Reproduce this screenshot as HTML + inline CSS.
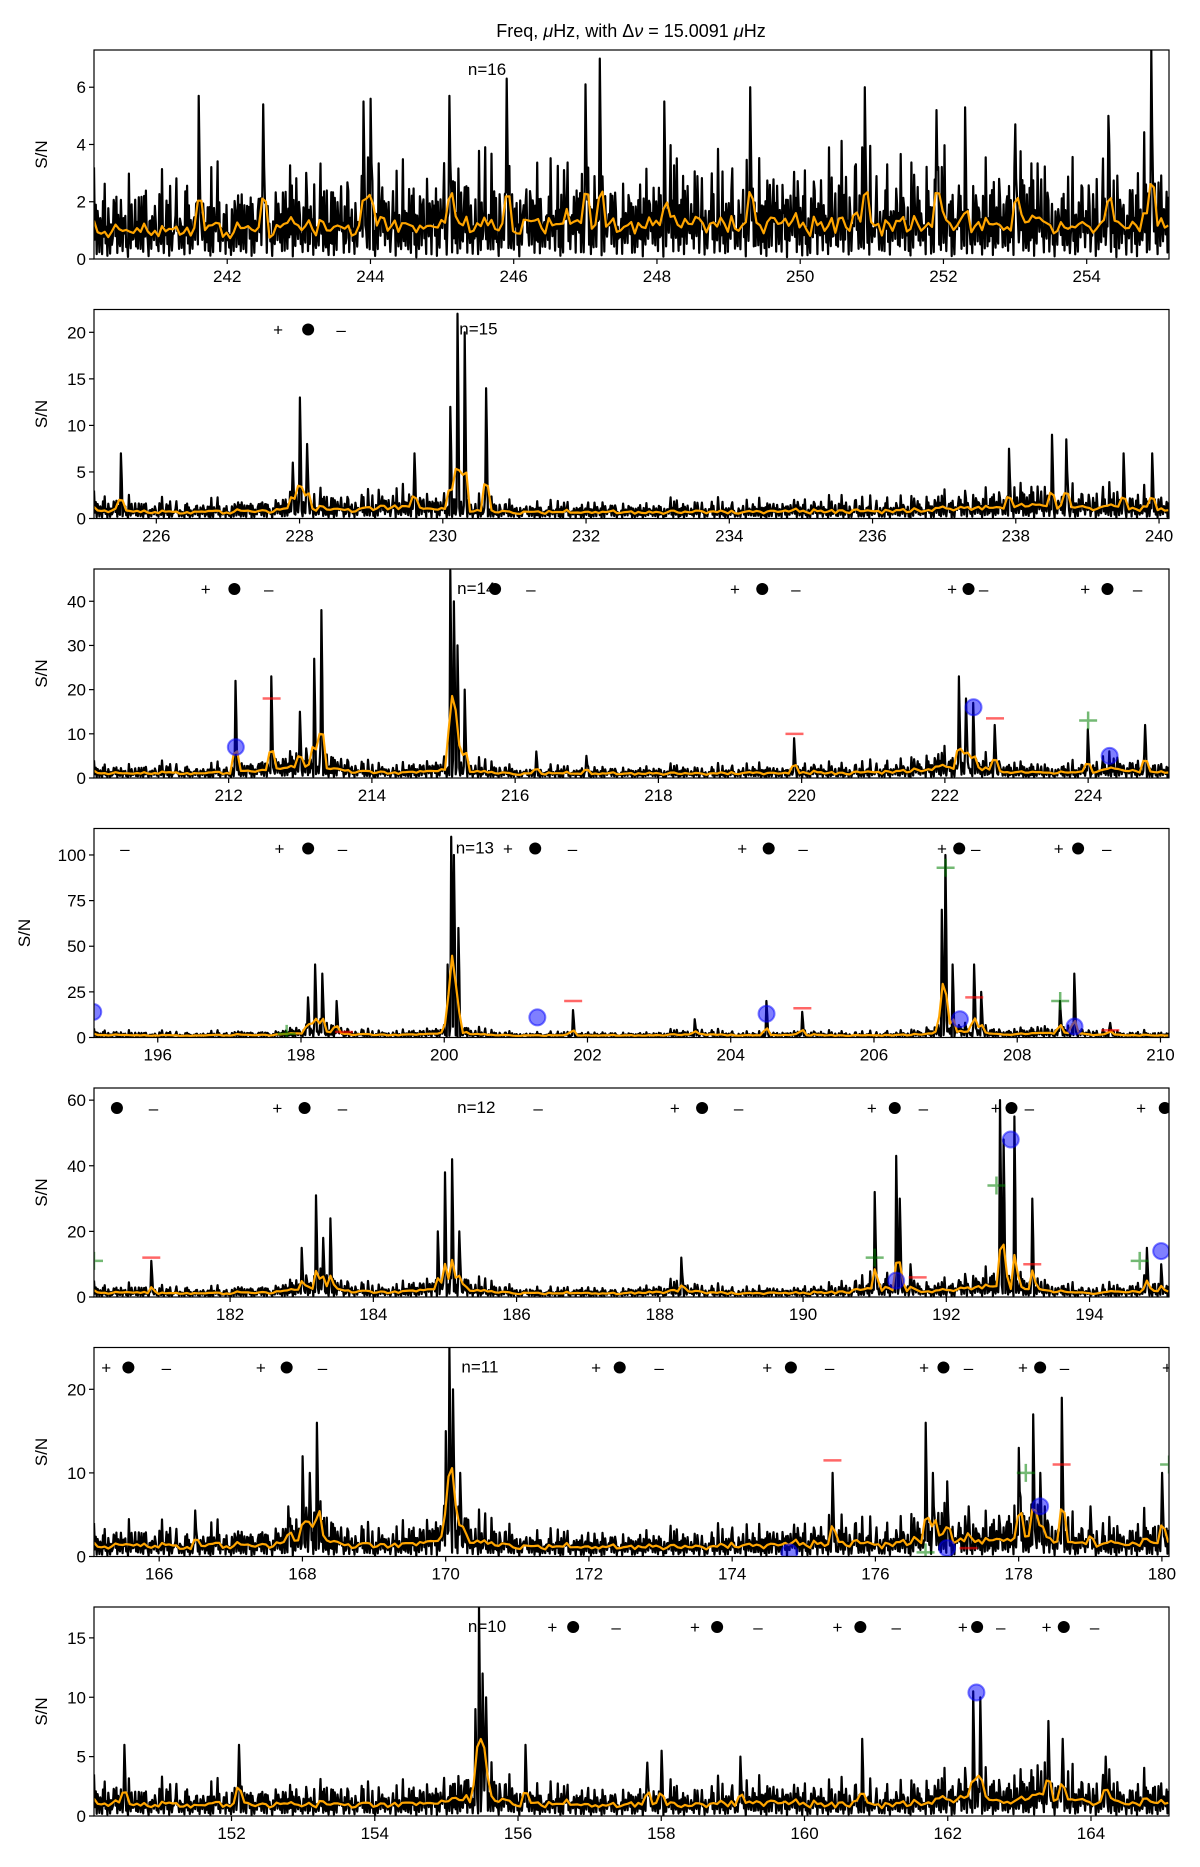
<!DOCTYPE html>
<html><head><meta charset="utf-8"><style>
html,body{margin:0;padding:0;background:#fff}
svg{display:block}
text{font-family:"Liberation Sans","DejaVu Sans",sans-serif;fill:#000}
</style></head><body>
<svg id="chart" width="1200" height="1867" viewBox="0 0 1200 1867" xmlns="http://www.w3.org/2000/svg">
<text x="631" y="37" font-size="18" text-anchor="middle">Freq, <tspan font-style="italic">μ</tspan>Hz, with Δ<tspan font-style="italic">ν</tspan> = 15.0091 <tspan font-style="italic">μ</tspan>Hz</text>
</svg>
<script>
// ---- data ----
const panelLows = [240.14, 225.13, 210.12, 195.11, 180.10, 165.09, 150.08];
const panelYMax = [7.3, 22.45, 47.3, 114.5, 63.7, 25.0, 17.6];
const panelOrders = ["n=16","n=15","n=14","n=13","n=12","n=11","n=10"];
const orderLabelF = [245.36, 230.23, 215.19, 200.16, 185.17, 170.22, 155.30];
const xTicks = [[242,244,246,248,250,252,254],[226,228,230,232,234,236,238,240],[212,214,216,218,220,222,224],[196,198,200,202,204,206,208,210],[182,184,186,188,190,192,194],[166,168,170,172,174,176,178,180],[152,154,156,158,160,162,164]];
const yTicks = [[0,2,4,6],[0,5,10,15,20],[0,10,20,30,40],[0,25,50,75,100],[0,20,40,60],[0,10,20],[0,5,10,15]];
const envelope = [
[3.2,3.6,3.3,3.8,3.4,4.0,3.7,3.8,3.3,4.2,3.8,4.3,3.9,3.6,4.4,4.0,4.5,4.2,3.8,4.3,4.6,4.0,4.4,3.9,4.7,4.3,4.5,4.9,4.2,4.4,4.0,4.5,4.3,4.9,4.6,4.2,4.5,4.0,4.8,4.4,3.9,4.3,5.0,4.5,4.2,4.6,4.3,4.9,4.4,4.0,4.5,4.2,4.8,4.3,3.8,4.4,4.6,4.0,4.3,4.5,4.2],
[3,3.2,2.8,2.5,2.6,2.4,2.7,2.5,2.6,3.0,3.2,3.8,4.0,3.5,3.8,3.5,4.2,4.5,4.0,3.8,3.5,3.2,2.8,2.6,2.5,2.4,2.6,2.3,2.5,2.7,2.4,2.3,2.5,2.6,2.8,2.5,2.4,2.6,2.7,2.9,2.6,2.8,3.0,2.7,2.9,3.1,3.2,3.5,3.8,4.0,4.2,4.5,4.8,4.5,4.2,4.6,4.4,4.0,3.8,3.5,3.2],
[4,4,3.5,4,4.5,4,3.8,4.2,5,6,7,8,9,8,7,5,4.5,4,5,6,7,6,4.5,4,3.5,3.8,4,3.5,3.6,4,3.5,3.8,3.6,4,3.5,3.8,4,4.2,3.8,4,4.5,4.2,4,4.5,5,5.5,6.5,8,9,8.5,7,5,4.5,4,4.5,5,6,6.5,6,5,4.5],
[5,5,4.5,4,4.5,4,4,4.5,5,5,5.5,7,10,12,8,6,5,5,6,8,10,8,5,4.5,4,4,4.5,4,4,4.5,4,4,5,6,7,5,4.5,4,4.5,5,5,4.5,4,4,4.5,5,6,10,12,10,8,6,7,8,10,8,6,5,4.5,4,4],
[5,4.5,5,4.5,4,4.5,4,4,4.5,5,5.5,7,9,10,8,6,5,5.5,7,9,11,8,6,5,4.5,4,4,4.5,4,4,4.5,5,6,7,5.5,4.5,4,4,4.5,4,4.5,5,6,8,10,9,7,6,8,10,12,11,9,7,6,5,4.5,5,6,7,6],
[4,4.5,5,4.5,5,4,4.5,5,4.5,5,5.5,6,8,7,5.5,5,4.5,5,5.5,7,9,7,5.5,5,4.5,4,4.5,4,4,4.5,4,4.5,4,4.5,4,4.5,5,4.5,5,5.5,5,5.5,6,5.5,5,6,7,8,7,6,7,8,9,8,7,6,5,5,5.5,6,6],
[3.5,4,3.5,3.2,3.8,3.5,3.2,3.6,4,3.5,3.8,3.4,3.2,3.6,3.8,3.5,3.2,3.6,3.8,4,4.5,5,5.5,4.5,4,3.5,3.8,3.5,3.2,3.4,3.6,3.8,3.5,3.2,3.6,3.8,3.5,4,4.2,3.8,3.5,3.4,4,3.6,3.4,3.8,4,4.5,5,5.5,5,4.5,5,6,5.5,5,4.5,4,3.8,4.2,4]
];
const peakFreqs = [
[241.6,242.5,243.9,244.0,245.1,245.9,247.0,247.2,248.1,249.3,250.9,252.3,254.9,254.3,251.9,253.0],
[225.5,228.0,228.1,230.2,230.3,230.6,230.1,229.6,237.9,238.5,238.7,239.5,239.9,227.9],
[212.1,212.6,213.0,213.3,213.2,215.1,215.15,215.2,215.3,219.9,222.2,222.3,222.4,222.7,224.0,224.8,216.3,217.0],
[198.2,198.3,198.1,198.5,200.1,200.13,200.2,200.05,207.0,206.95,207.1,207.4,207.5,208.6,208.8,203.5,204.5,201.8,205.0,209.3],
[180.9,183.0,183.2,183.4,183.3,185.1,185.0,185.2,184.9,188.3,191.0,191.3,191.35,191.5,192.75,192.8,192.95,193.2,194.8,195.0],
[168.0,168.2,168.1,170.05,170.1,170.0,170.2,175.4,176.7,176.8,177.0,177.3,178.0,178.2,178.3,178.6,179.0,180.0,167.8,166.5],
[155.45,155.5,155.55,155.4,162.35,162.45,163.4,163.6,160.8,159.1,164.2,152.1,150.5,157.8,156.1,158.0]
];
const peakHeights = [
[5.7,5.4,5.5,5.6,5.7,6.3,6.1,7.0,5.5,6.0,6.0,5.3,7.3,5.0,5.2,4.7],
[7,13,8,22,20,14,12,7,7.5,9,8.5,7,7,6],
[22,23,15,38,27,47,40,30,20,9,23,18,17,12,11,12,6,5],
[40,35,22,20,110,100,60,40,100,70,40,40,25,20,35,10,20,15,14,8],
[11,15,31,24,18,42,38,20,20,12,32,43,30,10,60,48,55,30,15,10],
[12,16,10,25,20,15,10,10,16,10,9,6,13,17,10,19,6,10,6,5.5],
[17.6,12,10,9,10.5,10,8,6.5,6.5,5,5,6,6,4.5,6,5.5]
];
const plusF = [[],[227.70],[211.68,219.07,222.10,223.96],[197.70,200.89,204.16,206.95,208.58],[182.66,188.21,190.96,192.69,194.72],[165.26,167.42,172.10,174.49,176.68,178.06,180.07],[156.48,158.47,160.46,162.21,163.38]];
const dotF = [[],[228.12],[212.08,215.72,219.45,222.33,224.27],[198.10,201.27,204.53,207.19,208.85],[180.42,183.04,188.59,191.28,192.91,195.05],[165.57,167.78,172.43,174.82,176.95,178.30],[156.77,158.78,160.78,162.41,163.62]];
const minusF = [[],[228.58],[212.56,216.22,219.92,222.54,224.69],[195.54,198.58,201.79,205.01,207.42,209.25],[180.93,183.57,186.30,189.10,191.68,193.16],[166.10,168.28,172.98,175.36,177.30,178.64],[157.37,159.35,161.28,162.74,164.05]];
const blueF = [[],[],[212.1,222.4,224.3],[195.1,201.3,204.5,207.2,208.8],[191.3,192.9,195.0],[174.8,177.0,178.3],[162.4]];
const blueV = [[],[],[7,16,5],[14,11,13,10,6],[5,48,14],[0.5,1,6],[10.4]];
const redF = [[],[],[212.6,219.9,222.7],[201.8,205.0,207.4,209.3,198.6],[180.9,191.6,193.2],[175.4,177.3,178.6],[]];
const redV = [[],[],[18,10,13.5],[20,16,22,4,3],[12,6,10],[11.5,1,11],[]];
const greenF = [[],[],[224.0],[207.0,208.6,197.8],[180.1,191.0,192.7,194.7],[176.7,178.1,180.1],[]];
const greenV = [[],[],[13],[93,20,2],[11,12,34,11],[0.5,10,11],[]];
// texture pattern for spectrum fine structure
const texA = [1,0.3,0.65,0.12,0.8,0.45,0.2,0.95,0.55,0.1,0.7,0.35,0.85,0.25,0.6,0.05,0.9,0.4,0.15,0.75,0.5,0.3,0.68];
const texB = [1,0.7,0.9,0.55,0.8,1,0.6,0.75,0.95,0.5,0.85,0.65,1,0.7,0.6,0.9,0.8];
const texC = [1,0.8,0.6,1,0.9,0.7,0.5,0.85,1,0.65,0.9,0.75,0.55,1,0.8,0.6,0.95,0.7,0.85,1,0.6,0.9,0.75,0.5,0.8,1,0.7];

// ---- layout ----
const NS = "http://www.w3.org/2000/svg";
const svg = document.getElementById('chart');
const L = 94, W = 1075, H = 209, TOP0 = 50, GAP = 259.5, DNU = 15.0091, STEP = 0.0125;
function mk(tag, attrs, parent){const e=document.createElementNS(NS,tag);for(const k in attrs)e.setAttribute(k,attrs[k]);(parent||svg).appendChild(e);return e;}

for (let p = 0; p < 7; p++) {
  const top = TOP0 + GAP * p, lo = panelLows[p], ymax = panelYMax[p];
  const xs = f => L + (f - lo) / DNU * W;
  const ys = v => top + H - v / ymax * H;
  const g = mk('g', {});
  
  
  const cp = mk('clipPath', {id: 'clip' + p}, g);
  mk('rect', {x: L, y: top, width: W, height: H}, cp);

  const N = Math.round(DNU / STEP);
  const env = envelope[p];
  const vals = [];
  for (let i = 0; i <= N; i++) {
    const f = i * STEP, k = f / 0.25, k0 = Math.min(Math.floor(k), env.length - 2), t = k - k0;
    const e = env[k0] * (1 - t) + env[k0 + 1] * t;
    vals.push(e * texA[i % texA.length] * texB[i % texB.length] * texC[Math.floor(i / 3) % texC.length]);
  }
  peakFreqs[p].forEach((f, j) => {
    const i = Math.round((f - lo) / STEP);
    if (i >= 0 && i <= N) {
      vals[i] = Math.max(vals[i], peakHeights[p][j]);
      if (i + 1 <= N) vals[i + 1] = Math.max(vals[i + 1], peakHeights[p][j] * 0.6);
    }
  });
  let d = '';
  vals.forEach((v, i) => { d += (i ? 'L' : 'M') + xs(lo + i * STEP).toFixed(1) + ' ' + ys(v).toFixed(1); });
  const sp = mk('path', {d: d, fill: 'none', stroke: '#000', 'stroke-width': 2.2, 'stroke-linejoin': 'round', 'clip-path': 'url(#clip' + p + ')'}, g);
  
  
  let d2 = '';
  const w = 3;
  for (let i = 0; i <= N; i += 4) {
    let s = 0, c = 0;
    for (let j = i - w; j <= i + w; j++) { if (j >= 0 && j <= N) { s += vals[j]; c++; } }
    d2 += (i ? 'L' : 'M') + xs(lo + i * STEP).toFixed(1) + ' ' + ys(s / c * 0.9).toFixed(1);
  }
  const sm = mk('path', {d: d2, fill: 'none', stroke: '#ffa500', 'stroke-width': 2.2, 'stroke-linejoin': 'round', 'clip-path': 'url(#clip' + p + ')'}, g);
  
  

  greenF[p].forEach((f, j) => {
    const x = xs(f), y = ys(greenV[p][j]);
    const m = mk('path', {d: `M${x-9} ${y}H${x+9}M${x} ${y-9}V${y+9}`, stroke: 'rgba(0,128,0,0.55)', 'stroke-width': 2.5, 'clip-path': 'url(#clip' + p + ')'}, g);
    
    
  });
  redF[p].forEach((f, j) => {
    const x = xs(f), y = ys(redV[p][j]);
    const m = mk('path', {d: `M${x-9} ${y}H${x+9}`, stroke: 'rgba(255,0,0,0.6)', 'stroke-width': 2.5, 'clip-path': 'url(#clip' + p + ')'}, g);
    
    
  });
  blueF[p].forEach((f, j) => {
    const m = mk('circle', {cx: xs(f), cy: ys(blueV[p][j]), r: 8, fill: 'rgba(0,0,255,0.5)', stroke: 'rgba(0,0,255,0.5)', 'stroke-width': 2, 'clip-path': 'url(#clip' + p + ')'}, g);
    
    
  });

  const ay = top + 20;
  plusF[p].forEach(f => {
    const t = mk('text', {x: xs(f), y: ay + 6, 'font-size': 17, 'text-anchor': 'middle', 'clip-path': 'url(#clip' + p + ')'}, g);
    t.textContent = '+';
    
    
  });
  dotF[p].forEach(f => {
    const c = mk('circle', {cx: xs(f), cy: ay, r: 6, fill: '#000', 'clip-path': 'url(#clip' + p + ')'}, g);
    
    
  });
  minusF[p].forEach(f => {
    const t = mk('text', {x: xs(f), y: ay + 6, 'font-size': 17, 'text-anchor': 'middle', 'clip-path': 'url(#clip' + p + ')'}, g);
    t.textContent = '–';
    
    
  });
  const nl = mk('text', {x: xs(orderLabelF[p]), y: top + 25, 'font-size': 17}, g);
  nl.textContent = panelOrders[p];
  
  

  const fr = mk('rect', {x: L, y: top, width: W, height: H, fill: 'none', stroke: '#000', 'stroke-width': 1.2}, g);
  
  
  xTicks[p].forEach(v => {
    const x = xs(v);
    mk('line', {x1: x, x2: x, y1: top + H, y2: top + H + 5, stroke: '#000', 'stroke-width': 1.2}, g);
    const t = mk('text', {x: x, y: top + H + 23, 'font-size': 17, 'text-anchor': 'middle'}, g);
    t.textContent = v;
    
    
  });
  yTicks[p].forEach(v => {
    const y = ys(v);
    mk('line', {x1: L - 5, x2: L, y1: y, y2: y, stroke: '#000', 'stroke-width': 1.2}, g);
    const t = mk('text', {x: L - 8, y: y + 6, 'font-size': 17, 'text-anchor': 'end'}, g);
    t.textContent = v;
    
    
  });
  const yl = mk('text', {x: 0, y: 0, 'font-size': 17, 'text-anchor': 'middle', transform: `translate(${p===3?30:47},${top + H/2}) rotate(-90)`}, g);
  yl.textContent = 'S/N';
  
  
}
</script>
</body></html>
